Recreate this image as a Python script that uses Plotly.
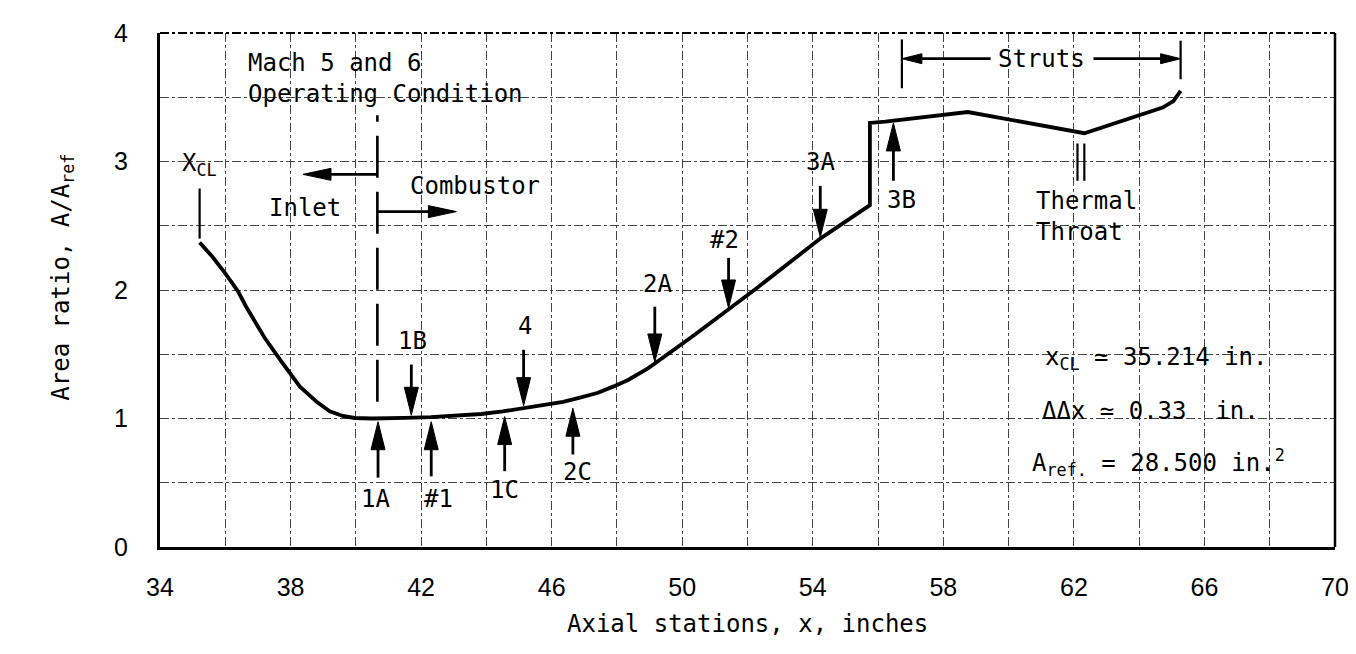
import math
import plotly.graph_objects as go

# ---------------- data ----------------
curve_x = [35.214, 35.6, 36.0, 36.39, 36.64, 37.2, 37.7, 38.28, 38.8, 39.2, 39.6, 39.96,
           40.5, 41.0, 41.5, 42.3, 43.0, 43.84, 44.5, 45.07, 45.7, 46.35, 46.9, 47.42,
           47.9, 48.34, 48.95, 50.32, 52.31, 54.23, 55.75, 55.75, 56.22, 58.75, 62.32,
           63.5, 64.72, 65.05, 65.27]
curve_y = [2.37, 2.26, 2.13, 1.99, 1.87, 1.63, 1.45, 1.25, 1.13, 1.056, 1.02, 1.004,
           1.0, 1.0, 1.005, 1.01, 1.02, 1.035, 1.055, 1.08, 1.105, 1.13, 1.165, 1.20,
           1.25, 1.30, 1.39, 1.64, 2.02, 2.40, 2.66, 3.30, 3.31, 3.385, 3.22,
           3.32, 3.42, 3.47, 3.55]

station_labels = ["1A", "#1", "1C", "2C", "1B", "4", "2A", "#2", "3A", "3B"]
station_x = [40.68, 42.31, 44.56, 46.65, 41.70, 45.14, 49.16, 51.42, 54.23, 56.47]
station_tip_y = [0.975, 0.975, 1.015, 1.08, 1.025, 1.10, 1.44, 1.86, 2.41, 3.30]
station_tail_y = [0.54, 0.55, 0.59, 0.72, 1.42, 1.535, 1.87, 2.25, 2.81, 2.85]
station_label_x = [40.6, 42.52, 44.56, 46.79, 41.75, 45.17, 49.25, 51.28, 54.25, 56.71]
station_label_y = [0.376, 0.376, 0.446, 0.584, 1.60, 1.72, 2.05, 2.39, 3.0, 2.70]

x_major_ticks = [34, 38, 42, 46, 50, 54, 58, 62, 66, 70]
x_minor_ticks = [36, 40, 44, 48, 52, 56, 60, 64, 68]
y_major_ticks = [0, 1, 2, 3, 4]
y_minor_ticks = [0.5, 1.5, 2.5, 3.5]

# reference marks
x_cl = 35.214
x_cl_tick_y = [2.40, 2.79]
divider_x = 40.66
divider_y = [1.13, 3.36]
inlet_arrow = (40.66, 2.90, 38.38, 2.90)          # tail x, tail y, tip x, tip y
combustor_arrow = (40.66, 2.61, 43.08, 2.61)
strut_bars_x = [56.73, 65.27]
strut_bars_y = [[3.57, 3.95], [3.64, 3.94]]
strut_line_y = 3.80
strut_arrow_left = (59.45, 56.73)                  # tail x, tip x
strut_arrow_right = (62.6, 65.27)
throat_ticks_x = [62.11, 62.32]
throat_ticks_y = [2.85, 3.14]

X_RANGE = [34, 70]
Y_RANGE = [0, 4]
W, H = 1356, 654
MARGIN = dict(l=152, r=29, t=25, b=115)
px_x = (W - MARGIN["l"] - MARGIN["r"]) / (X_RANGE[1] - X_RANGE[0])
px_y = (H - MARGIN["t"] - MARGIN["b"]) / (Y_RANGE[1] - Y_RANGE[0])

MONO = "DejaVu Sans Mono"
SANS = "Liberation Sans"

shaft_x, shaft_y, head_x, head_y = [], [], [], []


def add_arrow(x0, y0, x1, y1, head_len=28, head_half=7):
    dxp = (x1 - x0) * px_x
    dyp = (y1 - y0) * px_y
    L = math.hypot(dxp, dyp)
    ux, uy = dxp / L, dyp / L
    bx = x1 - ux * head_len / px_x
    by = y1 - uy * head_len / px_y
    nx, ny = -uy, ux
    lx, ly = bx + nx * head_half / px_x, by + ny * head_half / px_y
    rx, ry = bx - nx * head_half / px_x, by - ny * head_half / px_y
    shaft_x.extend([x0, bx, None])
    shaft_y.extend([y0, by, None])
    head_x.extend([x1, lx, rx, x1, None])
    head_y.extend([y1, ly, ry, y1, None])


for sx, ty, tl in zip(station_x, station_tip_y, station_tail_y):
    add_arrow(sx, tl, sx, ty)
add_arrow(*inlet_arrow, head_len=28, head_half=6)
add_arrow(*combustor_arrow, head_len=28, head_half=6)
add_arrow(strut_arrow_left[0], strut_line_y, strut_arrow_left[1], strut_line_y, head_len=20, head_half=5)
add_arrow(strut_arrow_right[0], strut_line_y, strut_arrow_right[1], strut_line_y, head_len=20, head_half=5)

fig = go.Figure()

fig.add_trace(go.Scatter(x=curve_x, y=curve_y, mode="lines",
                         line=dict(color="black", width=3.8), hoverinfo="skip"))

# thin solid marks
mark_x, mark_y = [], []
mark_x += [x_cl, x_cl, None]
mark_y += [x_cl_tick_y[0], x_cl_tick_y[1], None]
for bx, by in zip(strut_bars_x, strut_bars_y):
    mark_x += [bx, bx, None]
    mark_y += [by[0], by[1], None]
for tx in throat_ticks_x:
    mark_x += [tx, tx, None]
    mark_y += [throat_ticks_y[0], throat_ticks_y[1], None]
fig.add_trace(go.Scatter(x=mark_x, y=mark_y, mode="lines",
                         line=dict(color="black", width=2.2), hoverinfo="skip"))

fig.add_trace(go.Scatter(x=[divider_x, divider_x], y=divider_y, mode="lines",
                         line=dict(color="black", width=2.6, dash="42px,14px"), hoverinfo="skip"))

fig.add_trace(go.Scatter(x=shaft_x, y=shaft_y, mode="lines",
                         line=dict(color="black", width=2.8), hoverinfo="skip"))
fig.add_trace(go.Scatter(x=head_x, y=head_y, mode="lines", fill="toself",
                         fillcolor="black", line=dict(color="black", width=1), hoverinfo="skip"))

ann = []
for lab, lx, ly in zip(station_labels, station_label_x, station_label_y):
    ann.append(dict(x=lx, y=ly, text=lab, showarrow=False,
                    font=dict(family=MONO, size=24, color="black")))

text_items = [
    (36.64, 3.77, "Mach 5 and 6", "left"),
    (36.64, 3.525, "Operating Condition", "left"),
    (38.45, 2.64, "Inlet", "center"),
    (43.66, 2.81, "Combustor", "center"),
    (61.0, 3.80, "Struts", "center"),
    (34.62, 2.98, "X<sub>CL</sub>", "left"),
    (61.05, 1.47, "x<sub>CL</sub> \u2243 35.214 in.", "left"),
    (60.95, 1.056, "\u0394\u0394x \u2243 0.33 \u00a0in.", "left"),
    (60.65, 0.66, "A<sub>ref.</sub> = 28.500 in.<sup>2</sup>", "left"),
]
for tx, ty, t, xa in text_items:
    ann.append(dict(x=tx, y=ty, text=t, showarrow=False, xanchor=xa,
                    font=dict(family=MONO, size=24, color="black")))

ann.append(dict(x=60.77, y=2.575, text="Thermal<br>Throat", showarrow=False, xanchor="left",
                align="left", font=dict(family=MONO, size=24, color="black")))

ann.append(dict(xref="paper", yref="paper", x=0.5, y=0, yshift=-93, text="Axial stations, x, inches",
                showarrow=False, font=dict(family=MONO, size=24, color="black")))
ann.append(dict(xref="paper", yref="paper", x=0, y=0.525, xshift=-115, text="Area ratio, A/A<sub>ref</sub>",
                textangle=-90, showarrow=False, font=dict(family=MONO, size=24, color="black")))

grid_style = dict(gridcolor="#444", griddash="dashdot", gridwidth=1.3)

fig.update_layout(
    width=W, height=H, margin=MARGIN,
    paper_bgcolor="white", plot_bgcolor="white",
    showlegend=False, annotations=ann,
    xaxis=dict(range=X_RANGE, tickvals=x_major_ticks, ticktext=[str(v) for v in x_major_ticks],
               showgrid=True, **grid_style, zeroline=False,
               showline=True, linecolor="black", linewidth=3, ticks="", ticklabelstandoff=16,
               tickfont=dict(family=SANS, size=25, color="black"),
               minor=dict(tickvals=x_minor_ticks, showgrid=True, **grid_style)),
    yaxis=dict(range=Y_RANGE, tickvals=y_major_ticks, ticktext=[str(v) for v in y_major_ticks],
               showgrid=True, **grid_style, zeroline=False,
               showline=True, linecolor="black", linewidth=3, ticks="", ticklabelstandoff=24,
               tickfont=dict(family=SANS, size=25, color="black"),
               minor=dict(tickvals=y_minor_ticks, showgrid=True, **grid_style)),
    shapes=[
        dict(type="line", xref="paper", yref="paper", x0=1, x1=1, y0=0, y1=1,
             line=dict(color="black", width=2.5)),
        dict(type="line", xref="paper", yref="paper", x0=0, x1=1, y0=1, y1=1,
             line=dict(color="black", width=2, dash="dashdot")),
    ],
)

fig.write_html("out.html")
